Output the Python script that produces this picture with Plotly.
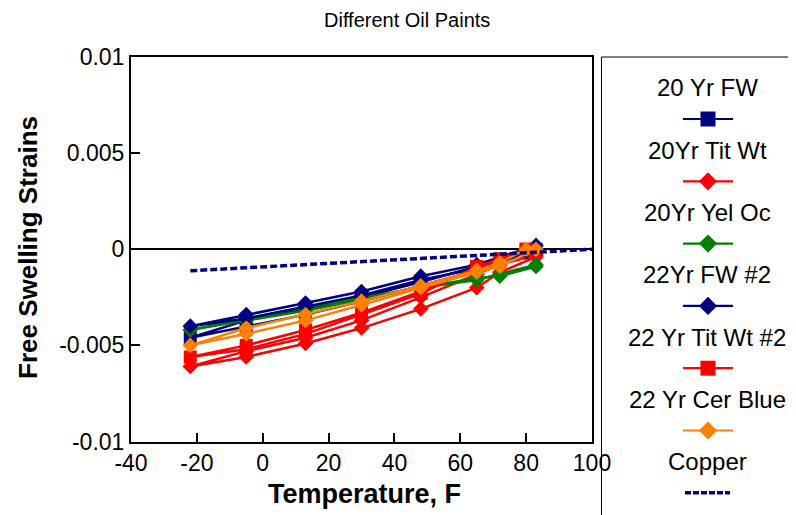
import plotly.graph_objects as go

# ---------------- data ----------------
series_names = ["20 Yr FW", "20Yr Tit Wt", "20Yr Yel Oc", "22Yr FW #2",
                "22 Yr Tit Wt #2", "22 Yr Cer Blue", "Copper"]

temps_20yr_fw = [83, 65, 48, 30, 13, -5, -22, -5, 13, 30, 48, 65, 80]
strain_20yr_fw = [0.0000, -0.0009, -0.0017, -0.0025, -0.0031, -0.0037, -0.0046,
                  -0.0040, -0.0034, -0.0027, -0.0019, -0.0011, -0.0002]

temps_20yr_tit_wt = [83, 72, 65, 48, 30, 13, -5, -22, -5, 13, 30, 48, 65, 72, 83]
strain_20yr_tit_wt = [-0.0004, -0.0012, -0.0020, -0.0031, -0.0041, -0.0049, -0.0056, -0.0061,
                      -0.0053, -0.0046, -0.0037, -0.0025, -0.0013, -0.0008, -0.0003]

temps_20yr_yel_oc = [83, 72, 65, 48, 30, 13, -5, -22, -5, 13, 30, 48, 65, 72, 83]
strain_20yr_yel_oc = [-0.0008, -0.0013, -0.0016, -0.0020, -0.0025, -0.0030, -0.0036, -0.0042,
                      -0.0037, -0.0032, -0.0026, -0.0020, -0.0015, -0.0014, -0.0009]

temps_22yr_fw2 = [83, 65, 48, 30, 13, -5, -22, -5, 13, 30, 48, 65, 80]
strain_22yr_fw2 = [0.0002, -0.0008, -0.0014, -0.0022, -0.0028, -0.0034, -0.0040,
                   -0.0036, -0.0030, -0.0024, -0.0016, -0.0010, -0.0001]

temps_22yr_tit_wt2 = [80, 72, 65, 48, 30, 13, -5, -22, -5, 13, 30, 48, 65, 72, 80]
strain_22yr_tit_wt2 = [0.0000, -0.0006, -0.0010, -0.0022, -0.0033, -0.0042, -0.0050, -0.0056,
                       -0.0052, -0.0044, -0.0034, -0.0023, -0.0009, -0.0005, 0.0000]

temps_22yr_cer_blue = [83, 72, 65, 48, 30, 13, -5, -22, -5, 13, 30, 48, 65, 72, 80]
strain_22yr_cer_blue = [0.0000, -0.0009, -0.0012, -0.0020, -0.0029, -0.0037, -0.0044, -0.0050,
                        -0.0041, -0.0034, -0.0027, -0.0019, -0.0011, -0.0007, 0.0000]

temps_copper = [-22, 100]
strain_copper = [-0.00112, 0.0]

x_tick_values = [-40, -20, 0, 20, 40, 60, 80, 100]
x_tick_labels = ["-40", "-20", "0", "20", "40", "60", "80", "100"]
y_tick_values = [-0.01, -0.005, 0, 0.005, 0.01]
y_tick_labels = ["-0.01", "-0.005", "0", "0.005", "0.01"]

chart_title = "Different Oil Paints"
x_title = "Temperature, F"
y_title = "Free Swelling Strains"

# ---------------- styles ----------------
OFF = 8  # page body margin
W, H = 796 - OFF, 515 - OFF
FONT = "Liberation Sans, Arial, sans-serif"
NAVY, RED, GREEN, ORANGE = "#000080", "#FF0000", "#008000", "#FF8000"

paint_series = [
    (temps_20yr_fw, strain_20yr_fw, NAVY, "square", 13),
    (temps_20yr_tit_wt, strain_20yr_tit_wt, RED, "diamond", 12),
    (temps_20yr_yel_oc, strain_20yr_yel_oc, GREEN, "diamond", 12),
    (temps_22yr_fw2, strain_22yr_fw2, NAVY, "diamond", 12),
    (temps_22yr_tit_wt2, strain_22yr_tit_wt2, RED, "square", 13),
    (temps_22yr_cer_blue, strain_22yr_cer_blue, ORANGE, "diamond", 12),
]


def px_x(p):
    return (p - OFF) / W


def px_y(p):
    return (H - (p - OFF)) / H


fig = go.Figure()

for t, s, c, sym, sz in paint_series:
    fig.add_trace(go.Scatter(
        x=t, y=s, mode="lines+markers",
        line=dict(color=c, width=2.5),
        marker=dict(symbol=sym, size=sz, color=c, opacity=1, line=dict(width=0)),
        showlegend=False, xaxis="x", yaxis="y", hoverinfo="x+y"))

fig.add_trace(go.Scatter(
    x=temps_copper, y=strain_copper, mode="lines",
    line=dict(color=NAVY, width=3.5, dash="7px,3px"),
    showlegend=False, xaxis="x", yaxis="y"))

# ---------------- custom legend (text above sample) ----------------
# legend axis x2: 0..188 maps to window px 601..796 ; y2: entry index
LEG_SCALE = 62.3
y2_top = (119 - 57) / LEG_SCALE
y2_bot = y2_top - (515 - 57) / LEG_SCALE
x2_max = 796 - 601

legend_styles = [(c, sym, sz) for _, _, c, sym, sz in paint_series]
for i, (c, sym, sz) in enumerate(legend_styles):
    fig.add_trace(go.Scatter(
        x=[82, 132], y=[-i, -i], mode="lines",
        line=dict(color=c, width=2.2),
        showlegend=False, xaxis="x2", yaxis="y2", hoverinfo="skip"))
    fig.add_trace(go.Scatter(
        x=[107], y=[-i], mode="markers",
        marker=dict(symbol=sym, size=sz + 2, color=c, opacity=1, line=dict(width=0)),
        showlegend=False, xaxis="x2", yaxis="y2", hoverinfo="skip"))
fig.add_trace(go.Scatter(
    x=[84, 129], y=[-6, -6], mode="lines",
    line=dict(color=NAVY, width=3.5, dash="6px,2px"),
    showlegend=False, xaxis="x2", yaxis="y2", hoverinfo="skip"))

annotations = []
for i, name in enumerate(series_names):
    annotations.append(dict(
        text=name, xref="x2", yref="y2", x=106, y=-i + 0.5,
        showarrow=False, xanchor="center", yanchor="middle",
        font=dict(family=FONT, size=24, color="black")))

annotations += [
    dict(text=chart_title, xref="paper", yref="paper", x=px_x(407), y=px_y(20),
         showarrow=False, xanchor="center", yanchor="middle",
         font=dict(family=FONT, size=20, color="black")),
    dict(text="<b>" + x_title + "</b>", xref="paper", yref="paper", x=px_x(364), y=px_y(494),
         showarrow=False, xanchor="center", yanchor="middle",
         font=dict(family=FONT, size=27, color="black")),
    dict(text="<b>" + y_title + "</b>", xref="paper", yref="paper", x=px_x(28), y=px_y(248),
         showarrow=False, xanchor="center", yanchor="middle", textangle=-90,
         font=dict(family=FONT, size=26, color="black")),
]

axis_common = dict(showgrid=False, showline=True, linecolor="black", linewidth=2,
                   mirror=True, ticks="inside", tickcolor="black", tickwidth=2,
                   ticklen=9, tickfont=dict(family=FONT, size=23, color="black"),
                   fixedrange=True, automargin=False)

fig.update_layout(
    width=W, height=H,
    margin=dict(l=0, r=0, t=0, b=0, pad=0, autoexpand=False),
    paper_bgcolor="white", plot_bgcolor="white",
    showlegend=False,
    xaxis=dict(domain=[px_x(131), px_x(592)], range=[-40, 100],
               tickmode="array", tickvals=x_tick_values, ticktext=x_tick_labels,
               zeroline=False, anchor="y", **axis_common),
    yaxis=dict(domain=[px_y(441.5), px_y(57)], range=[-0.01, 0.01],
               tickmode="array", tickvals=y_tick_values, ticktext=y_tick_labels,
               zeroline=True, zerolinecolor="black", zerolinewidth=2,
               anchor="x", **axis_common),
    xaxis2=dict(domain=[px_x(601), 1], range=[0, x2_max], visible=False,
                anchor="y2", fixedrange=True, automargin=False),
    yaxis2=dict(domain=[0, px_y(57)], range=[y2_bot, y2_top], visible=False,
                anchor="x2", fixedrange=True, automargin=False),
    annotations=annotations,
    shapes=[dict(type="rect", xref="paper", yref="paper",
                 x0=px_x(601.5), x1=1.1, y0=-0.1, y1=px_y(57),
                 line=dict(color="black", width=1), fillcolor="rgba(0,0,0,0)")],
)

fig.write_html("out.html")
